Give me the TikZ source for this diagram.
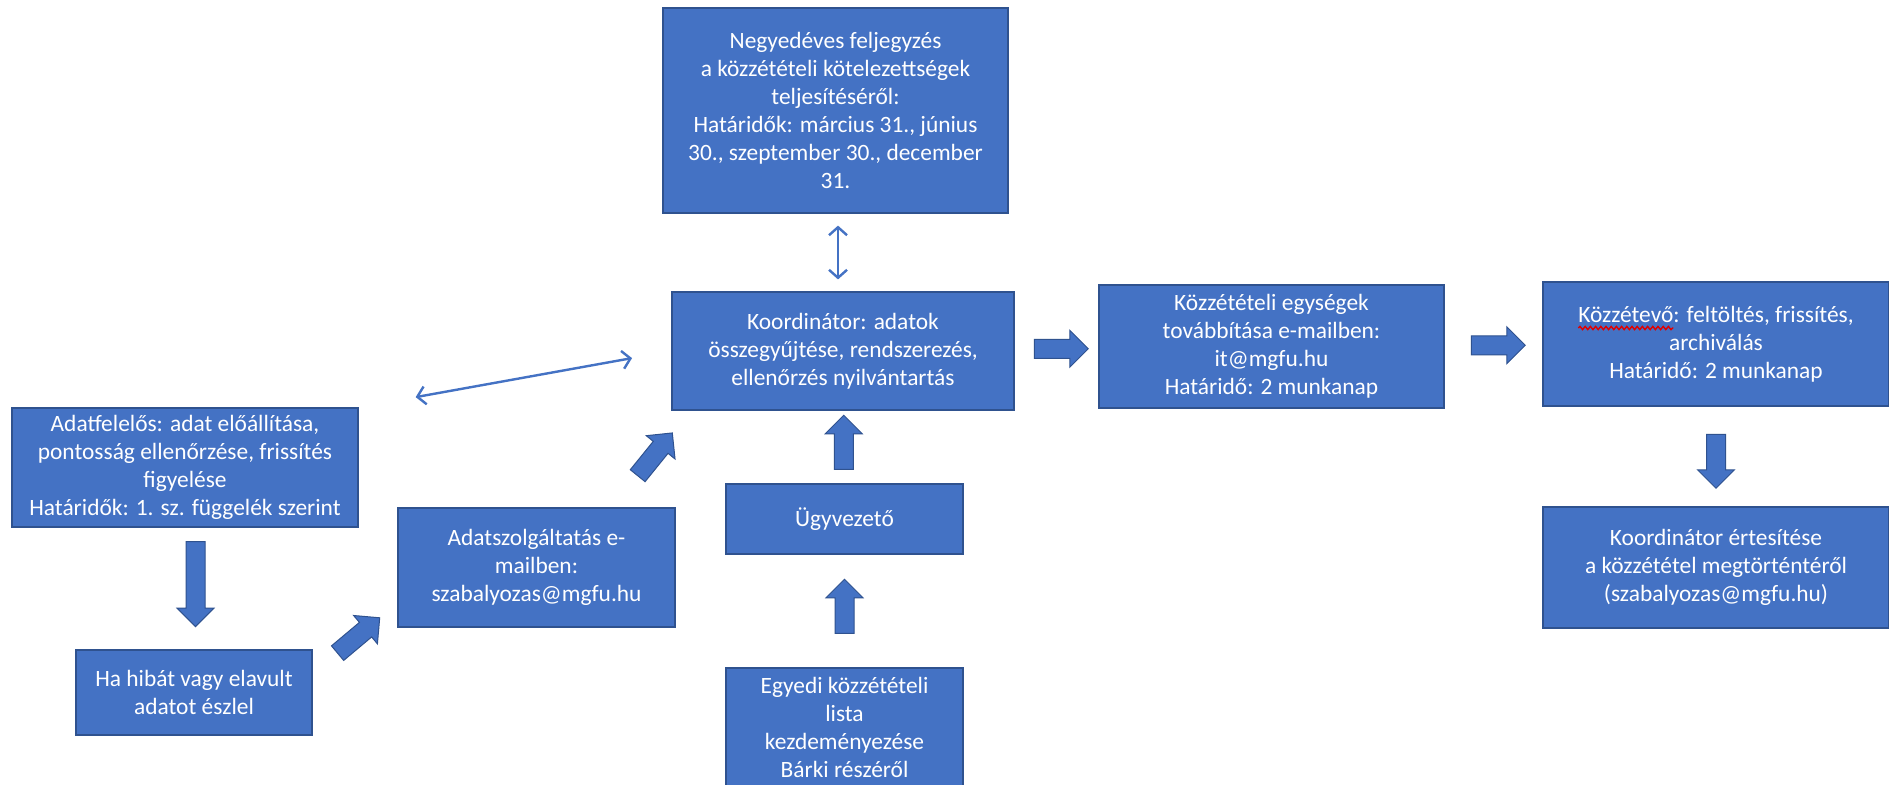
\documentclass[tikz,border=0pt]{standalone}
\usepackage{fontspec}
\setmainfont{Carlito}
\usetikzlibrary{shapes.arrows,arrows.meta,calc,decorations.pathmorphing}

\definecolor{boxblue}{HTML}{4472C4}
\definecolor{boxedge}{HTML}{2F528F}
\definecolor{spellred}{HTML}{E00000}

\newlength{\kwline}
\newlength{\kwword}

\tikzset{
  box/.style={rectangle, fill=boxblue, draw=boxedge, line width=0.6pt, text=white,
    align=center, inner sep=0pt, font=\boxfont},
  bigarrow/.style={single arrow, fill=boxblue, draw=boxedge, line width=0.5pt,
    minimum height=27pt, single arrow head extend=4.5pt, inner xsep=0pt, inner ysep=4.5pt},
  twoway/.style={{Straight Barb[length=4pt,width=9pt]}-{Straight Barb[length=4pt,width=9pt]},
    boxblue, line width=1.2pt},
  spellwave/.style={spellred, line width=0.7pt, decorate,
    decoration={snake, amplitude=0.8pt, segment length=2.6pt}}
}
\newcommand{\boxfont}{\fontsize{11.7}{14}\selectfont}

\begin{document}
\settowidth{\kwline}{\boxfont Közzétevő: feltöltés, frissítés,}
\settowidth{\kwword}{\boxfont Közzétevő}
\begin{tikzpicture}[x=0.5pt, y=-0.5pt]
            \fill[white] (0,0) rectangle (1889,784);
            \useasboundingbox (0,0) rectangle (1889,784);

            % boxes
            \node[box, minimum width=172.5pt, minimum height=102.5pt] (neg) at (835.5,110.5)
                {Negyedéves feljegyzés\\a közzétételi kötelezettségek\\teljesítéséről:\\Határidők: március 31., június\\30., szeptember 30., december\\31.};
            \node[box, minimum width=171pt, minimum height=59pt] (koord) at (843,351)
                {Koordinátor: adatok\\összegyűjtése, rendszerezés,\\ellenőrzés nyilvántartás};
            \node[box, minimum width=173pt, minimum height=59.5pt] (adatf) at (185,467.5)
                {Adatfelelős: adat előállítása,\\pontosság ellenőrzése, frissítés\\figyelése\\Határidők: 1. sz. függelék szerint};
            \node[box, minimum width=118pt, minimum height=42.5pt] (hiba) at (194,692.5)
                {Ha hibát vagy elavult\\adatot észlel};
            \node[box, minimum width=138.5pt, minimum height=59.5pt] (adatsz) at (536.5,567.5)
                {Adatszolgáltatás e-\\mailben:\\szabalyozas@mgfu.hu};
            \node[box, minimum width=118.5pt, minimum height=35pt] (ugyv) at (844.5,519)
                {Ügyvezető};
            \node[box, minimum width=118.5pt, minimum height=59pt] (egyedi) at (844.5,727)
                {Egyedi közzétételi\\lista\\kezdeményezése\\Bárki részéről};
            \node[box, minimum width=172.5pt, minimum height=61.5pt] (kozz) at (1271.5,346.5)
                {Közzétételi egységek\\továbbítása e-mailben:\\it@mgfu.hu\\Határidő: 2 munkanap};
            \node[box, minimum width=173pt, minimum height=62pt] (kozzt) at (1716,344)
                {Közzétevő: feltöltés, frissítés,\\archiválás\\Határidő: 2 munkanap};
            \node[box, minimum width=173pt, minimum height=60.5pt] (ertes) at (1716,567.5)
                {Koordinátor értesítése\\a közzététel megtörténtéről\\(szabalyozas@mgfu.hu)};

            % spell-check wave under the first word
            \coordinate (wavestart) at ($(kozzt.center)+(-0.5\kwline,8pt)$);
            \coordinate (waveend) at ($(wavestart)+(\kwword,0pt)$);
            \draw[spellwave] (wavestart) -- (waveend);

            % block arrows
            \node[bigarrow] (a1) at ($(koord.east)!0.5!(kozz.west)$) {};
            \node[bigarrow] (a2) at ($(kozz.east)!0.5!(kozzt.west)$) {};
            \node[bigarrow, rotate=-90] (a3) at ($(kozzt.south)!0.5!(ertes.north)$) {};
            \node[bigarrow, rotate=90] (a4) at ($(ugyv.north)!0.5!(koord.south)$) {};
            \node[bigarrow, rotate=90] (a5) at ($(egyedi.north)!0.5!(ugyv.south)$) {};
            \node[bigarrow, rotate=-90, minimum height=42.5pt] (a6) at ($(hiba.north)+(1.5,-70)$) {};
            \node[bigarrow, rotate=40, minimum height=27.5pt] (a7) at ($(hiba.north east)!0.5!(adatsz.south west)$) {};
            \node[bigarrow, rotate=51, minimum height=27.5pt] (a8) at (652,458) {};

            % thin two-way arrows
            \draw[twoway] ($(neg.south)+(2.5,12)$) -- ($(koord.north)+(-5,-12)$);
            \draw[twoway, shorten <=29pt, shorten >=20pt] (adatf.north east) -- (koord.west);
        \end{tikzpicture}
\end{document}
